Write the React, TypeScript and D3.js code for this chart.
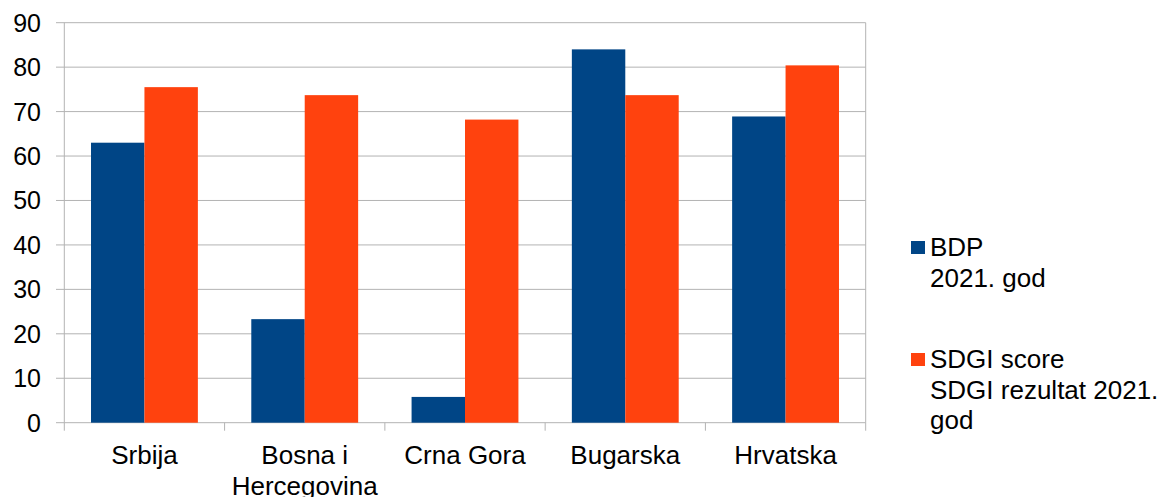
import React from "react";
import * as d3 from "d3";

const categories: string[][] = [
  ["Srbija"],
  ["Bosna i", "Hercegovina"],
  ["Crna Gora"],
  ["Bugarska"],
  ["Hrvatska"],
];
const bdp: number[] = [63.0, 23.3, 5.8, 84.0, 68.9];
const sdgi: number[] = [75.5, 73.7, 68.2, 73.7, 80.4];
const yTicks: number[] = [0, 10, 20, 30, 40, 50, 60, 70, 80, 90];
const seriesNames = ["bdp", "sdgi"];
const seriesColors = ["#004586", "#ff420e"];
const legendLabels: string[][] = [
  ["BDP", "2021. god"],
  ["SDGI score", "SDGI rezultat 2021.", "god"],
];

const W = 1165;
const H = 497;
const left = 64.3;
const right = 865.7;
const top = 22.7;
const bottom = 422.7;
const font = "'Liberation Sans', Arial, sans-serif";
const grid = "#b3b3b3";

export default function App() {
  const keys = categories.map((c) => c.join(" "));
  const x0 = d3.scaleBand<string>().domain(keys).range([left, right]).padding(0);
  const step = x0.step();
  const gap = step / 6;
  const x1 = d3.scaleBand<string>().domain(seriesNames).range([gap, step - gap]).padding(0);
  const y = d3.scaleLinear().domain([0, 90]).range([bottom, top]);
  const values = [bdp, sdgi];

  return (
    <svg
      width={W}
      height={H}
      style={{ position: "absolute", left: 0, top: 0, background: "#fff" }}
      fontFamily={font}
    >
      {/* horizontal grid lines with left ticks */}
      {yTicks.map((t) => (
        <line key={"g" + t} x1={56} x2={right} y1={y(t)} y2={y(t)} stroke={grid} strokeWidth={1} />
      ))}
      {/* frame */}
      <line x1={left} x2={left} y1={top} y2={bottom} stroke={grid} strokeWidth={1} />
      <line x1={right} x2={right} y1={top} y2={bottom} stroke={grid} strokeWidth={1} />
      {/* category ticks below axis */}
      {d3.range(keys.length + 1).map((i) => (
        <line
          key={"t" + i}
          x1={left + i * step}
          x2={left + i * step}
          y1={bottom}
          y2={bottom + 8}
          stroke={grid}
          strokeWidth={1}
        />
      ))}
      {/* bars */}
      {keys.map((k, ci) =>
        seriesNames.map((s, si) => {
          const v = values[si][ci];
          return (
            <rect
              key={k + s}
              x={(x0(k) ?? 0) + (x1(s) ?? 0)}
              y={y(v)}
              width={x1.bandwidth()}
              height={y(0) - y(v)}
              fill={seriesColors[si]}
            />
          );
        })
      )}
      {/* y labels */}
      {yTicks.map((t) => (
        <text key={"l" + t} x={41} y={y(t) + 9} textAnchor="end" fontSize={25} fill="#000">
          {t}
        </text>
      ))}
      {/* x labels */}
      {categories.map((lines, ci) => (
        <text
          key={"c" + ci}
          x={(x0(keys[ci]) ?? 0) + step / 2}
          y={463.5}
          textAnchor="middle"
          fontSize={26}
          fill="#000"
        >
          {lines.map((ln, li) => (
            <tspan key={li} x={(x0(keys[ci]) ?? 0) + step / 2} dy={li === 0 ? 0 : 31.5}>
              {ln}
            </tspan>
          ))}
        </text>
      ))}
      {/* legend */}
      {legendLabels.map((lines, i) => {
        const baseY = i === 0 ? 256 : 368;
        return (
          <g key={"lg" + i}>
            <rect x={911} y={baseY - 15} width={14} height={13} fill={seriesColors[i]} />
            <text x={930} y={baseY} fontSize={26} fill="#000">
              {lines.map((ln, li) => (
                <tspan key={li} x={930} dy={li === 0 ? 0 : 30.5}>
                  {ln}
                </tspan>
              ))}
            </text>
          </g>
        );
      })}
    </svg>
  );
}
